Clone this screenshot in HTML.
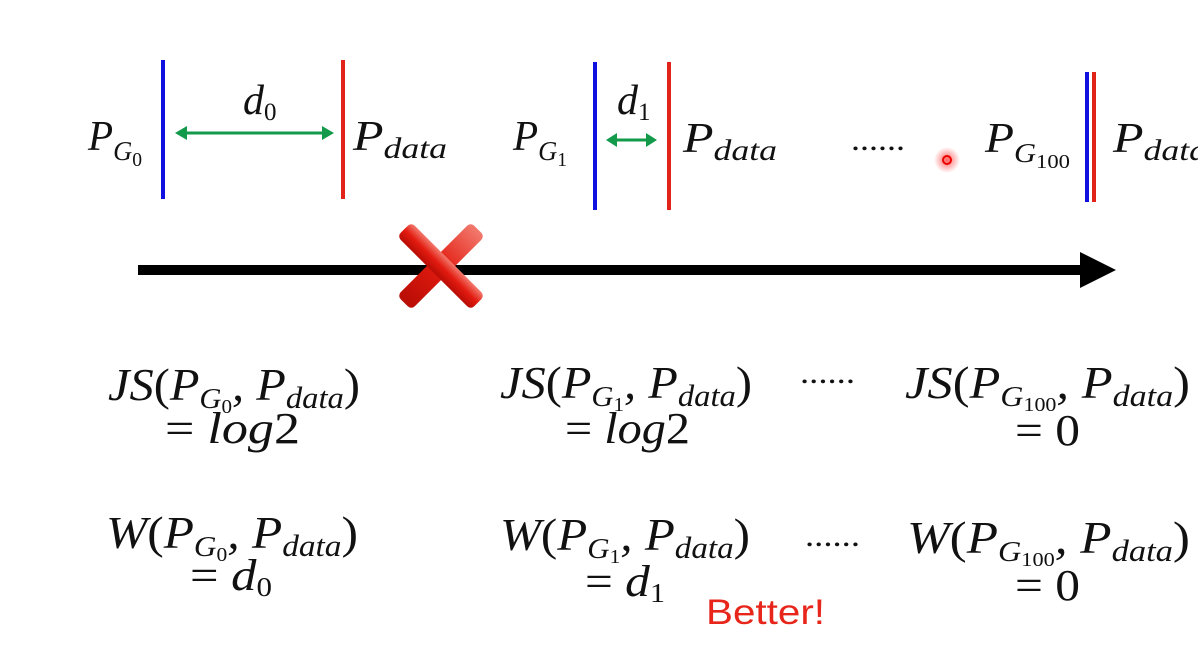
<!DOCTYPE html>
<html><head><meta charset="utf-8"><style>
html,body{margin:0;padding:0;background:#fff;width:1198px;height:645px;overflow:hidden}
svg text{font-family:"Liberation Serif",serif;font-style:italic;fill:#111}
.up{font-style:normal}
</style></head><body>
<svg width="1198" height="645" viewBox="0 0 1198 645" xmlns="http://www.w3.org/2000/svg">
<defs>
<linearGradient id="xg" x1="0" y1="0" x2="0" y2="1"><stop offset="0" stop-color="#f27a6e"/><stop offset="0.5" stop-color="#e31b10"/><stop offset="1" stop-color="#b80d05"/></linearGradient>
<radialGradient id="dot"><stop offset="0" stop-color="#ff4040" stop-opacity="0.8"/><stop offset="1" stop-color="#ff4040" stop-opacity="0"/></radialGradient>
</defs>
<g>
<text x="88" y="150" font-size="42" textLength="54" lengthAdjust="spacingAndGlyphs">P<tspan font-size="27" dy="10">G</tspan><tspan class="up" font-size="20" dy="6">0</tspan></text>
<rect x="161" y="60" width="4" height="139" fill="#1010e0"/>
<g stroke="#129a4a" fill="#129a4a">
<line x1="182" y1="133" x2="326" y2="133" stroke-width="3"/>
<polygon points="175,133 187,126 187,140" stroke="none"/><polygon points="334,133 322,126 322,140" stroke="none"/></g>
<text x="243" y="114" font-size="42">d<tspan class="up" font-size="25" dy="6">0</tspan></text>
<rect x="341" y="60" width="4" height="139" fill="#e2231a"/>
<text x="353" y="150" font-size="42" textLength="94" lengthAdjust="spacingAndGlyphs">P<tspan font-size="30" dy="8">data</tspan></text>
</g>
<g>
<text x="513" y="150" font-size="42" textLength="54" lengthAdjust="spacingAndGlyphs">P<tspan font-size="27" dy="10">G</tspan><tspan class="up" font-size="20" dy="6">1</tspan></text>
<rect x="593" y="62" width="4" height="148" fill="#1010e0"/>
<g stroke="#129a4a" fill="#129a4a">
<line x1="614" y1="140" x2="650" y2="140" stroke-width="3"/>
<polygon points="606,140 617,133 617,147" stroke="none"/><polygon points="657,140 646,133 646,147" stroke="none"/></g>
<text x="617" y="114" font-size="42">d<tspan class="up" font-size="25" dy="6">1</tspan></text>
<rect x="667" y="62" width="4" height="148" fill="#e2231a"/>
<text x="683" y="152" font-size="42" textLength="94" lengthAdjust="spacingAndGlyphs">P<tspan font-size="30" dy="8">data</tspan></text>
</g>
<text class="up" x="851" y="150" font-size="32" textLength="54" lengthAdjust="spacingAndGlyphs">......</text>
<circle cx="947" cy="160" r="13" fill="url(#dot)"/>
<circle cx="947" cy="160" r="4" fill="none" stroke="#e00" stroke-width="2"/>
<g>
<text x="985" y="152" font-size="42" textLength="85" lengthAdjust="spacingAndGlyphs">P<tspan font-size="27" dy="10">G</tspan><tspan class="up" font-size="20" dy="6">100</tspan></text>
<rect x="1085" y="72" width="4" height="130" fill="#1010e0"/>
<rect x="1092" y="72" width="4" height="130" fill="#e2231a"/>
<text x="1113" y="152" font-size="42" textLength="94" lengthAdjust="spacingAndGlyphs">P<tspan font-size="30" dy="8">data</tspan></text>
</g>
<g>
<rect x="138" y="265" width="948" height="10" fill="#000"/>
<polygon points="1080,252 1116,270 1080,288" fill="#000"/>
</g>
<g transform="translate(441,266) rotate(45)">
<rect x="-10" y="-52" width="20" height="104" rx="5" fill="url(#xg)"/>
<rect x="-52" y="-10" width="104" height="20" rx="5" fill="url(#xg)"/>
</g>
<g>
<text x="108" y="400" font-size="46" textLength="252" lengthAdjust="spacingAndGlyphs">JS<tspan class="up">(</tspan>P<tspan font-size="29" dy="8">G</tspan><tspan class="up" font-size="20" dy="5">0</tspan><tspan dy="-13">, P</tspan><tspan font-size="31" dy="8">data</tspan><tspan class="up" dy="-8">)</tspan></text>
<text x="165" y="443" font-size="44" textLength="135" lengthAdjust="spacingAndGlyphs"><tspan class="up">= </tspan>log<tspan class="up">2</tspan></text>
<text x="500" y="398" font-size="46" textLength="252" lengthAdjust="spacingAndGlyphs">JS<tspan class="up">(</tspan>P<tspan font-size="29" dy="8">G</tspan><tspan class="up" font-size="20" dy="5">1</tspan><tspan dy="-13">, P</tspan><tspan font-size="31" dy="8">data</tspan><tspan class="up" dy="-8">)</tspan></text>
<text x="565" y="443" font-size="44" textLength="125" lengthAdjust="spacingAndGlyphs"><tspan class="up">= </tspan>log<tspan class="up">2</tspan></text>
<text class="up" x="800" y="383" font-size="32" textLength="55" lengthAdjust="spacingAndGlyphs">......</text>
<text x="905" y="398" font-size="46" textLength="285" lengthAdjust="spacingAndGlyphs">JS<tspan class="up">(</tspan>P<tspan font-size="29" dy="8">G</tspan><tspan class="up" font-size="20" dy="5">100</tspan><tspan dy="-13">, P</tspan><tspan font-size="31" dy="8">data</tspan><tspan class="up" dy="-8">)</tspan></text>
<text class="up" x="1015" y="445" font-size="44" textLength="65" lengthAdjust="spacingAndGlyphs">= 0</text>
</g>
<g>
<text x="106" y="548" font-size="46" textLength="252" lengthAdjust="spacingAndGlyphs">W<tspan class="up">(</tspan>P<tspan font-size="29" dy="8">G</tspan><tspan class="up" font-size="20" dy="5">0</tspan><tspan dy="-13">, P</tspan><tspan font-size="31" dy="8">data</tspan><tspan class="up" dy="-8">)</tspan></text>
<text x="190" y="590" font-size="44" textLength="82" lengthAdjust="spacingAndGlyphs"><tspan class="up">= </tspan>d<tspan class="up" font-size="27" dy="6">0</tspan></text>
<text x="500" y="550" font-size="46" textLength="250" lengthAdjust="spacingAndGlyphs">W<tspan class="up">(</tspan>P<tspan font-size="29" dy="8">G</tspan><tspan class="up" font-size="20" dy="5">1</tspan><tspan dy="-13">, P</tspan><tspan font-size="31" dy="8">data</tspan><tspan class="up" dy="-8">)</tspan></text>
<text x="585" y="596" font-size="44" textLength="80" lengthAdjust="spacingAndGlyphs"><tspan class="up">= </tspan>d<tspan class="up" font-size="27" dy="6">1</tspan></text>
<text class="up" x="805" y="546" font-size="32" textLength="55" lengthAdjust="spacingAndGlyphs">......</text>
<text x="907" y="553" font-size="46" textLength="283" lengthAdjust="spacingAndGlyphs">W<tspan class="up">(</tspan>P<tspan font-size="29" dy="8">G</tspan><tspan class="up" font-size="20" dy="5">100</tspan><tspan dy="-13">, P</tspan><tspan font-size="31" dy="8">data</tspan><tspan class="up" dy="-8">)</tspan></text>
<text class="up" x="1015" y="600" font-size="44" textLength="65" lengthAdjust="spacingAndGlyphs">= 0</text>
</g>
<text x="706" y="624" style="font-family:'Liberation Sans',sans-serif;font-style:normal;fill:#e8251b" font-size="35" textLength="119" lengthAdjust="spacingAndGlyphs">Better!</text>
</svg>
</body></html>
